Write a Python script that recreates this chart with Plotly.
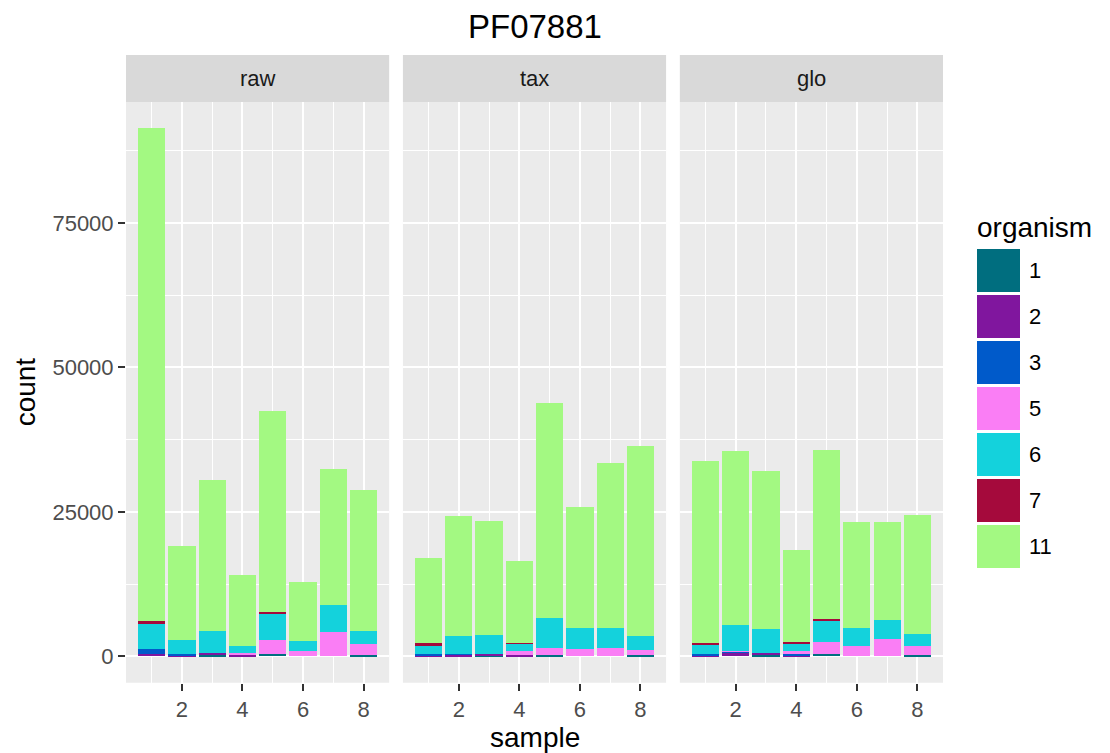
import plotly.graph_objects as go

# ---------------- data ----------------
samples = [1, 2, 3, 4, 5, 6, 7, 8]
panels = ["raw", "tax", "glo"]
organisms = ["1", "2", "3", "5", "6", "7", "11"]
colors = ["#006E7F", "#80169E", "#005ACA", "#FA7EF5", "#14D2DC", "#A50A3C", "#A3F982"]

raw_1 = [0, 0, 150, 0, 350, 0, 0, 250]
raw_2 = [460, 150, 460, 260, 0, 0, 0, 0]
raw_3 = [750, 200, 0, 0, 0, 0, 0, 0]
raw_5 = [0, 0, 0, 290, 2420, 865, 4210, 1900]
raw_6 = [4325, 2420, 3800, 1210, 4670, 1730, 4610, 2250]
raw_7 = [520, 0, 0, 0, 170, 0, 0, 0]
raw_11 = [85285, 16260, 26040, 12250, 34780, 10205, 23530, 24320]

tax_1 = [0, 0, 150, 0, 300, 0, 0, 150]
tax_2 = [200, 230, 200, 150, 0, 0, 0, 0]
tax_3 = [150, 100, 0, 0, 0, 0, 0, 0]
tax_5 = [0, 0, 0, 810, 1210, 1210, 1380, 865]
tax_6 = [1440, 3110, 3290, 1210, 5190, 3630, 3460, 2420]
tax_7 = [520, 0, 0, 170, 0, 0, 0, 0]
tax_11 = [14640, 20780, 19720, 14100, 37070, 20940, 28550, 32895]

glo_1 = [0, 0, 150, 0, 350, 0, 0, 175]
glo_2 = [150, 700, 460, 170, 0, 0, 0, 0]
glo_3 = [290, 170, 0, 170, 0, 0, 0, 0]
glo_5 = [0, 100, 0, 520, 2075, 1730, 2940, 1560]
glo_6 = [1560, 4500, 4150, 1385, 3800, 3115, 3290, 2075]
glo_7 = [350, 0, 0, 170, 170, 0, 0, 0]
glo_11 = [31380, 30000, 27240, 15925, 29245, 18335, 16950, 20580]

panel_data = {
    "raw": [raw_1, raw_2, raw_3, raw_5, raw_6, raw_7, raw_11],
    "tax": [tax_1, tax_2, tax_3, tax_5, tax_6, tax_7, tax_11],
    "glo": [glo_1, glo_2, glo_3, glo_5, glo_6, glo_7, glo_11],
}

x_ticks = [2, 4, 6, 8]
y_ticks = [0, 25000, 50000, 75000]
y_tick_labels = ["0", "25000", "50000", "75000"]

# ---------------- layout geometry (pixels) ----------------
W, H = 1110, 753
FONT = "Liberation Sans, Arial, Helvetica, sans-serif"
panel_left, panel_right, spacing = 126, 943, 13.75
panel_w = (panel_right - panel_left - 2 * spacing) / 3
panel_top, panel_bottom = 102, 682.7
strip_top = 55

def px_x(v):
    return v / W

def px_y(v):
    return 1 - v / H

fig = go.Figure()

# y range like ggplot (5% expansion)
max_total = max(sum(col) for p in panels for col in zip(*panel_data[p]))
y_range = [-0.05 * max_total, 1.05 * max_total]
x_range = [0.55 - 0.05 * 7.9, 8.45 + 0.05 * 7.9]

for i, p in enumerate(panels):
    xa = "x" if i == 0 else f"x{i+1}"
    ya = "y" if i == 0 else f"y{i+1}"
    for org, col, vals in zip(organisms, colors, panel_data[p]):
        fig.add_trace(go.Bar(
            x=samples, y=vals, width=0.9, name=org,
            marker=dict(color=col, line=dict(width=0)),
            xaxis=xa, yaxis=ya, showlegend=False,
        ))
    x0 = panel_left + i * (panel_w + spacing)
    x1 = x0 + panel_w
    axis_common = dict(
        showgrid=True, gridcolor="white", gridwidth=2, zeroline=False,
        ticks="outside", ticklen=7, tickwidth=2, tickcolor="#333333",
        tickfont=dict(family=FONT, size=22, color="#4d4d4d"),
        showline=False,
    )
    xkey = "xaxis" if i == 0 else f"xaxis{i+1}"
    ykey = "yaxis" if i == 0 else f"yaxis{i+1}"
    fig.update_layout({
        xkey: dict(
            axis_common, domain=[px_x(x0), px_x(x1)], range=x_range,
            tickvals=x_ticks, anchor=ya,
            minor=dict(tick0=1, dtick=2, showgrid=True, gridcolor="white", gridwidth=1, ticks=""),
        ),
        ykey: dict(
            axis_common, domain=[px_y(panel_bottom), px_y(panel_top)], range=y_range,
            tickvals=y_ticks, ticktext=y_tick_labels, anchor=xa,
            showticklabels=(i == 0), ticks=("outside" if i == 0 else ""),
            minor=dict(tick0=12500, dtick=25000, showgrid=True, gridcolor="white", gridwidth=1, ticks=""),
            **({} if i == 0 else {"matches": "y"}),
        ),
    })
    # panel background
    fig.add_shape(type="rect", xref="paper", yref="paper",
                  x0=px_x(x0), x1=px_x(x1), y0=px_y(panel_bottom), y1=px_y(panel_top),
                  fillcolor="#EBEBEB", line=dict(width=0), layer="below")
    # strip
    fig.add_shape(type="rect", xref="paper", yref="paper",
                  x0=px_x(x0), x1=px_x(x1), y0=px_y(panel_top), y1=px_y(strip_top),
                  fillcolor="#D9D9D9", line=dict(width=0))
    fig.add_annotation(xref="paper", yref="paper", x=px_x((x0 + x1) / 2),
                       y=px_y((strip_top + panel_top) / 2), text=p, showarrow=False,
                       font=dict(family=FONT, size=22, color="#1a1a1a"),
                       xanchor="center", yanchor="middle")

# titles
fig.add_annotation(xref="paper", yref="paper", x=px_x((panel_left + panel_right) / 2), y=px_y(27),
                   text="PF07881", showarrow=False, font=dict(family=FONT, size=33, color="black"),
                   xanchor="center", yanchor="middle")
fig.add_annotation(xref="paper", yref="paper", x=px_x((panel_left + panel_right) / 2), y=px_y(737),
                   text="sample", showarrow=False, font=dict(family=FONT, size=28, color="black"),
                   xanchor="center", yanchor="middle")
fig.add_annotation(xref="paper", yref="paper", x=px_x(25), y=px_y((panel_top + panel_bottom) / 2),
                   text="count", textangle=-90, showarrow=False,
                   font=dict(family=FONT, size=28, color="black"),
                   xanchor="center", yanchor="middle")

# legend (ggplot-style large keys)
fig.add_annotation(xref="paper", yref="paper", x=px_x(975), y=px_y(228),
                   text="organism", showarrow=False, font=dict(family=FONT, size=28, color="black"),
                   xanchor="left", yanchor="middle")
key_top, key_size, key_step = 249, 43, 46
for k, (org, col) in enumerate(zip(organisms, colors)):
    ty = key_top + k * key_step
    fig.add_shape(type="rect", xref="paper", yref="paper",
                  x0=px_x(977), x1=px_x(977 + key_size), y0=px_y(ty + key_size), y1=px_y(ty),
                  fillcolor=col, line=dict(width=0))
    fig.add_annotation(xref="paper", yref="paper", x=px_x(1027), y=px_y(ty + key_size / 2),
                       text=org, showarrow=False, font=dict(family=FONT, size=22, color="black"),
                       xanchor="left", yanchor="middle")

fig.update_layout(
    width=W, height=H, margin=dict(l=0, r=0, t=0, b=0),
    paper_bgcolor="white", plot_bgcolor="rgba(0,0,0,0)",
    barmode="stack", showlegend=False,
    font=dict(family=FONT),
)

fig.write_html("out.html")
